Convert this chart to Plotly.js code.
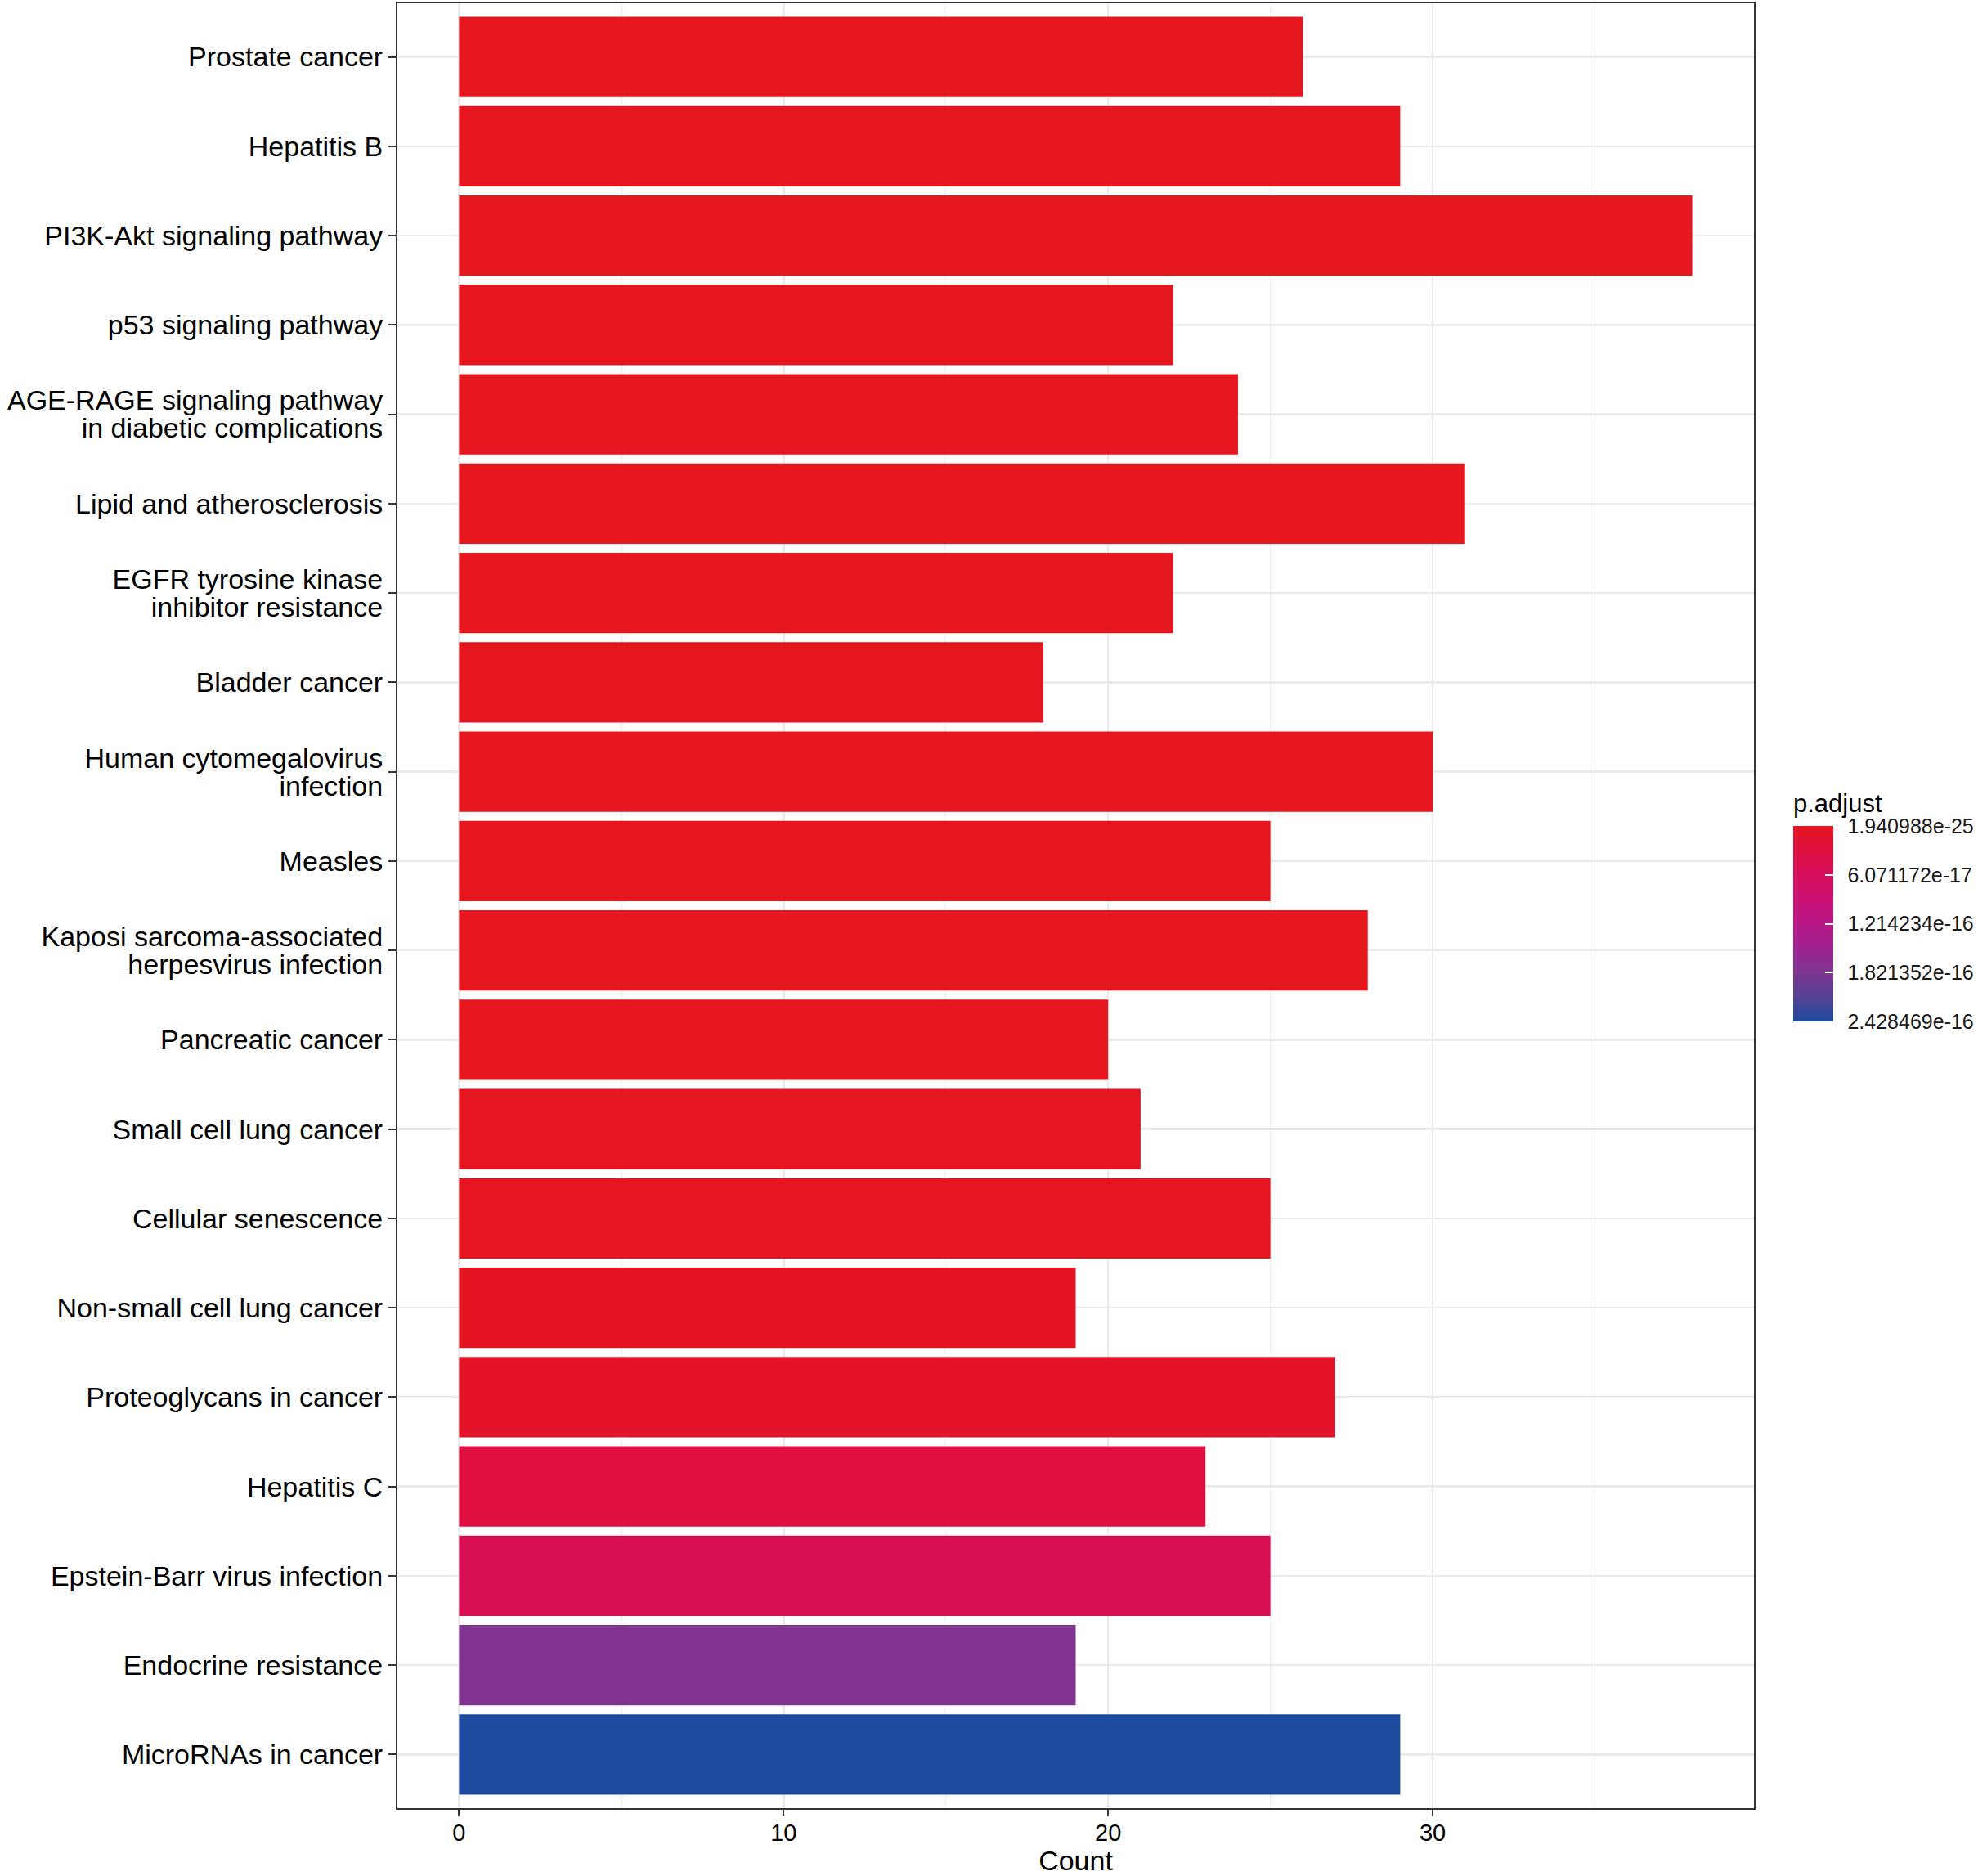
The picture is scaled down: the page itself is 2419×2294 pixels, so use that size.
<!DOCTYPE html>
<html>
<head>
<meta charset="utf-8">
<script src="https://cdn.plot.ly/plotly-3.0.1.min.js"></script>
<style>
  html, body { margin: 0; padding: 0; background: #ffffff; }
  #chart { width: 2419px; height: 2294px; }
</style>
</head>
<body>
<div id="chart"></div>
<script>
// ---- data (top-to-bottom order as displayed) ----
const categories = [
  "Prostate cancer",
  "Hepatitis B",
  "PI3K-Akt signaling pathway",
  "p53 signaling pathway",
  "AGE-RAGE signaling pathway<br>in diabetic complications",
  "Lipid and atherosclerosis",
  "EGFR tyrosine kinase<br>inhibitor resistance",
  "Bladder cancer",
  "Human cytomegalovirus<br>infection",
  "Measles",
  "Kaposi sarcoma-associated<br>herpesvirus infection",
  "Pancreatic cancer",
  "Small cell lung cancer",
  "Cellular senescence",
  "Non-small cell lung cancer",
  "Proteoglycans in cancer",
  "Hepatitis C",
  "Epstein-Barr virus infection",
  "Endocrine resistance",
  "MicroRNAs in cancer"
];
const counts = [26, 29, 38, 22, 24, 31, 22, 18, 30, 25, 28, 20, 21, 25, 19, 27, 23, 25, 19, 29];
const pAdjust = [
  1.940988e-25, 8.2e-24, 1.6e-23, 4.1e-23, 2.3e-22, 6.9e-22, 1.5e-21, 4.4e-21,
  1.2e-20, 3.6e-20, 9.8e-20, 2.7e-19, 6.1e-19, 1.9e-18, 4.8e-18, 9.5e-18,
  3.0e-17, 5.3e-17, 1.80e-16, 2.428469e-16
];
const legendTitle = "p.adjust";
const legendBreaks = [1.940988e-25, 6.071172e-17, 1.214234e-16, 1.821352e-16, 2.428469e-16];
const legendLabels = ["1.940988e-25", "6.071172e-17", "1.214234e-16", "1.821352e-16", "2.428469e-16"];
const xTicks = [0, 10, 20, 30];
const xTitle = "Count";

// ---- styling ----
const FONT = "Liberation Sans, Arial, Helvetica, sans-serif";
const W = 2419, H = 2294;
const panelL = 486, panelR = 2145, panelT = 4, panelB = 2211;
const cbTop = 1010, cbLen = 239, cbLeft = 2193;

// colour scale: blue (high p) at 0 -> red (low p) at 1 ; values negated so red sits at the top of the colour bar
const colorscale = [
  [0.0,   "#1E4B9E"],
  [0.125, "#554394"],
  [0.25,  "#7E3590"],
  [0.375, "#9E2390"],
  [0.5,   "#B81788"],
  [0.625, "#CB1274"],
  [0.75,  "#D60F5C"],
  [0.875, "#DF1040"],
  [1.0,   "#E5161E"]
];
const negP = pAdjust.map(v => -v);
const pMin = Math.min(...pAdjust), pMax = Math.max(...pAdjust);

const trace = {
  type: "bar",
  orientation: "h",
  x: counts,
  y: categories,
  width: 0.9,
  marker: {
    color: negP,
    colorscale: colorscale,
    cmin: -pMax,
    cmax: -pMin,
    line: { width: 0 },
    showscale: true,
    colorbar: {
      xref: "container",
      x: cbLeft / W, xanchor: "left",
      yref: "paper",
      y: (panelB - cbTop) / (panelB - panelT), yanchor: "top",
      len: cbLen, lenmode: "pixels",
      thickness: 49, thicknessmode: "pixels",
      xpad: 0, ypad: 0,
      outlinewidth: 0,
      tickvals: legendBreaks.map(v => -v),
      ticktext: legendLabels.map(s => "\u00a0\u2009" + s),
      ticks: "inside", ticklen: 10, tickwidth: 2, tickcolor: "#ffffff",
      tickfont: { family: FONT, size: 25, color: "#1a1a1a" }
    }
  },
  hoverinfo: "skip"
};

const layout = {
  width: W, height: H,
  margin: { l: panelL, r: W - panelR, t: panelT, b: H - panelB, pad: 0 },
  paper_bgcolor: "#ffffff",
  plot_bgcolor: "#ffffff",
  showlegend: false,
  bargap: 0.1,
  font: { family: FONT, color: "#000000" },
  annotations: [{
    xref: "paper", yref: "paper",
    x: (cbLeft - 2 - panelL) / (panelR - panelL), xanchor: "left",
    y: (panelB - 1002) / (panelB - panelT), yanchor: "bottom",
    text: legendTitle, showarrow: false,
    font: { family: FONT, size: 31, color: "#000000" }
  }],
  xaxis: {
    range: [-1.9, 39.9],
    tickvals: xTicks,
    ticktext: xTicks.map(String),
    showgrid: true, gridcolor: "#EBEBEB", gridwidth: 2.5,
    minor: { dtick: 5, tick0: 0, showgrid: true, gridcolor: "#EFEFEF", gridwidth: 1.5, ticks: "" },
    zeroline: false,
    showline: true, linecolor: "#333333", linewidth: 2, mirror: true,
    ticks: "outside", ticklen: 8, tickwidth: 2, tickcolor: "#333333",
    ticklabelstandoff: -5,
    tickfont: { family: FONT, size: 29, color: "#000000" },
    title: { text: xTitle, font: { family: FONT, size: 34, color: "#000000" }, standoff: 4 }
  },
  yaxis: {
    type: "category",
    categoryorder: "array",
    categoryarray: categories,
    range: [categories.length - 0.4, -0.6],
    showgrid: true, gridcolor: "#EBEBEB", gridwidth: 2.5,
    zeroline: false,
    showline: true, linecolor: "#333333", linewidth: 2, mirror: true,
    ticks: "outside", ticklen: 9, tickwidth: 2, tickcolor: "#333333",
    tickfont: { family: FONT, size: 34, color: "#000000" }
  }
};

function tightenLines() {
  // ggplot-style tighter line height for wrapped category labels, keeping each block centred on its tick
  const LS = 1.3, NEW = 1.0;
  document.querySelectorAll("#chart g.ytick text").forEach(t => {
    const lines = t.querySelectorAll("tspan.line");
    const n = lines.length;
    if (n < 2) return;
    const off = (n - 1) * (LS - NEW) / 2;
    lines.forEach((ln, i) => ln.setAttribute("dy", (off + i * NEW).toFixed(3) + "em"));
  });
}

Plotly.newPlot("chart", [trace], layout, { displayModeBar: false, staticPlot: true }).then(tightenLines);
</script>
</body>
</html>
